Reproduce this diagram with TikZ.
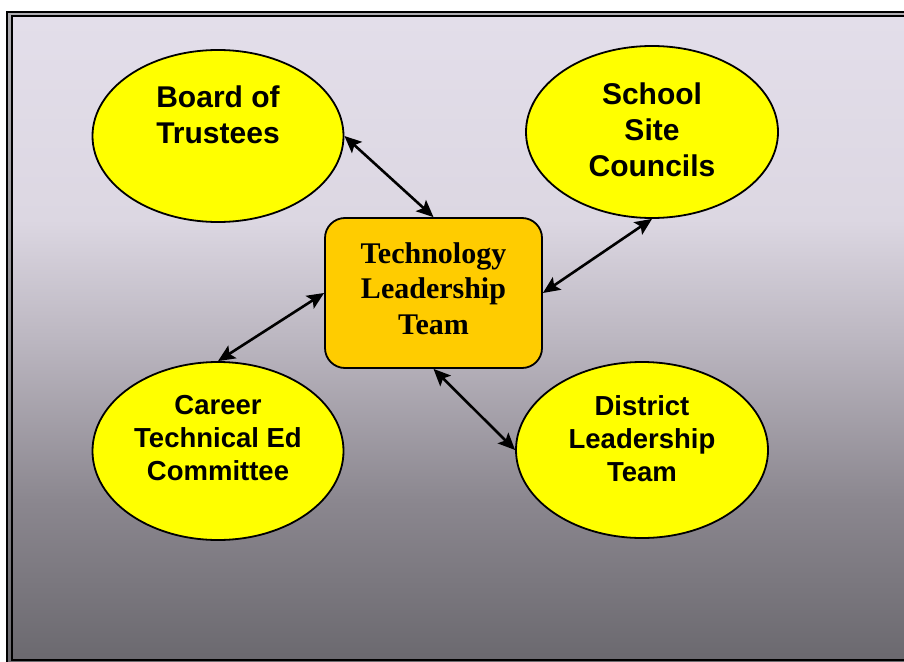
\documentclass[tikz,border=0pt]{standalone}
\usepackage{fontspec}
\newfontfamily\arialf{Liberation Sans}
\newfontfamily\timesf{Liberation Serif}
\usetikzlibrary{shapes.geometric,arrows.meta}

\definecolor{bgA}{HTML}{E3DEEA}
\definecolor{bgB}{HTML}{DCD7E2}
\definecolor{bgC}{HTML}{BAB5BF}
\definecolor{bgD}{HTML}{8B878F}
\definecolor{bgE}{HTML}{6B696F}
\definecolor{gapTop}{HTML}{AEADB2}
\definecolor{gapBot}{HTML}{6A696E}
\definecolor{ovalfill}{HTML}{FFFF00}
\definecolor{boxfill}{HTML}{FFCC00}

\tikzset{
  oval/.style={ellipse, draw=black, line width=1.8pt, fill=ovalfill, inner sep=0pt},
  hubbox/.style={rectangle, rounded corners=20pt, draw=black, line width=1.8pt,
    fill=boxfill, minimum width=217pt, minimum height=150pt, inner sep=0pt},
  bigtext/.style={align=center, inner sep=0pt,
    font=\arialf\bfseries\fontsize{30}{36}\selectfont},
  midtext/.style={align=center, inner sep=0pt,
    font=\arialf\bfseries\fontsize{27.5}{32.8}\selectfont},
  hubtext/.style={align=center, inner sep=0pt,
    font=\timesf\bfseries\fontsize{30}{35.4}\selectfont},
  link/.style={line width=2.6pt, draw=black,
    {Stealth[length=17pt,width=15pt,inset=3.5pt]}-{Stealth[length=17pt,width=15pt,inset=3.5pt]}}
}

\begin{document}
\begin{tikzpicture}[x=1pt,y=-1pt]
  \useasboundingbox (0,0) rectangle (904,661);
  \begin{scope}
    \clip (0,0) rectangle (904,661);
    % double frame with shaded gap
    \fill[top color=gapTop, bottom color=gapBot] (7,11.7) rectangle (916,668);
    % graded backdrop
    \fill[top color=bgA, bottom color=bgB] (11.8,16) rectangle (912,220.5);
    \fill[top color=bgB, bottom color=bgC] (11.8,220) rectangle (912,345.5);
    \fill[top color=bgC, bottom color=bgD] (11.8,345) rectangle (912,500.5);
    \fill[top color=bgD, bottom color=bgE] (11.8,500) rectangle (912,660);
    \draw[line width=2.2pt] (7,11.7) rectangle (916,668);
    \draw[line width=2.2pt] (11.8,16) rectangle (912,660);
  \end{scope}

  % hub
  \node[hubbox] (tlt) at (433.5,293) {};
  \node[hubtext] (tlttxt) at (433.5,288.4) {Technology\\Leadership\\Team};

  % surrounding groups
  \node[oval, minimum width=251pt, minimum height=172pt] (board) at (218,136) {};
  \node[bigtext] (boardtxt) at (218,115) {Board of\\Trustees};

  \node[oval, minimum width=252pt, minimum height=172pt] (school) at (652,132) {};
  \node[bigtext] (schooltxt) at (652,130) {School\\Site\\Councils};

  \node[oval, minimum width=251pt, minimum height=178pt] (career) at (218,451) {};
  \node[midtext] (careertxt) at (218,438) {Career\\Technical Ed\\Committee};

  \node[oval, minimum width=252pt, minimum height=176pt] (district) at (642,450) {};
  \node[midtext] (districttxt) at (642,438.5) {District\\Leadership\\Team};

  % two-way links
  \draw[link] (board.east) -- (tlt.north);
  \draw[link] (school.south) -- (tlt.east);
  \draw[link] (career.north) -- (tlt.west);
  \draw[link] (district.west) -- (tlt.south);
\end{tikzpicture}
\end{document}
